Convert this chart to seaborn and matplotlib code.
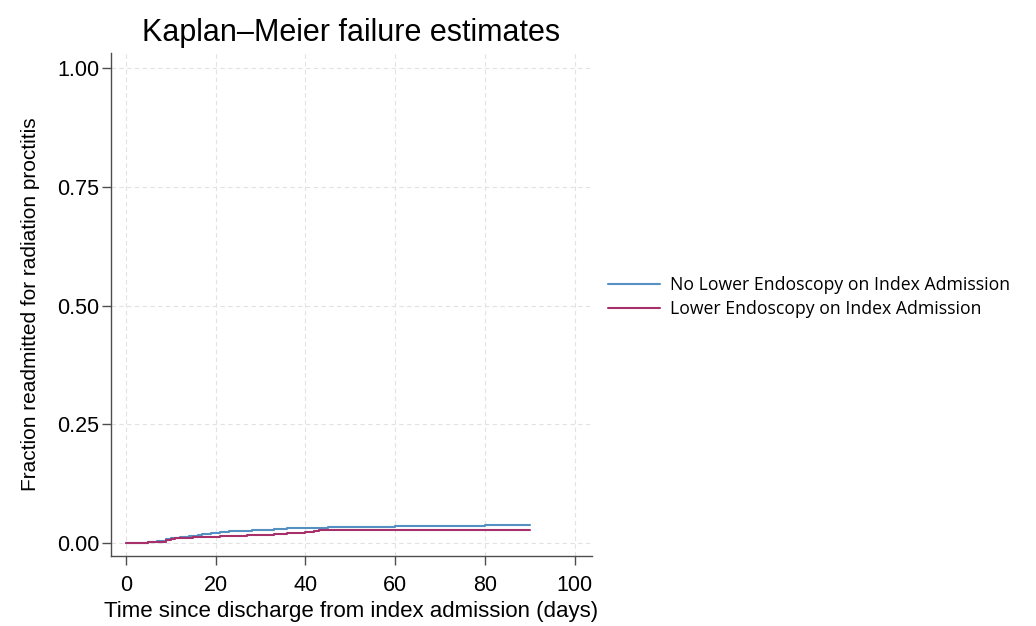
"""
Kaplan-Meier failure estimates: readmission for radiation proctitis
"""
import pandas as pd
import matplotlib.pyplot as plt
import seaborn as sns

BLUE = "#5590c2"
RED  = "#a8306a"
GRID = "#e2e2e2"
AXIS = "#4d4d4d"

NO_ENDO  = "No Lower Endoscopy on Index Admission"
YES_ENDO = "Lower Endoscopy on Index Admission"

# step points
no_endo_t = [0, 3, 5, 7, 9, 10, 12, 14, 16, 17, 19, 21, 23, 26, 28, 30, 33,
             36, 38, 40, 45, 50, 56, 60, 68, 72, 80, 85, 90]
no_endo_f = [0.000, 0.001, 0.003, 0.005, 0.008, 0.010, 0.012, 0.015, 0.018,
             0.020, 0.022, 0.023, 0.025, 0.026, 0.027, 0.028, 0.029, 0.031,
             0.032, 0.033, 0.034, 0.035, 0.035, 0.036, 0.036, 0.037, 0.038,
             0.038, 0.039]
endo_t = [0, 3, 5, 7, 9, 10, 11, 13, 15, 17, 19, 21, 24, 27, 30, 33, 36, 38,
          40, 42, 43, 50, 62, 90]
endo_f = [0.000, 0.001, 0.002, 0.003, 0.006, 0.009, 0.010, 0.011, 0.012,
          0.013, 0.014, 0.015, 0.016, 0.017, 0.018, 0.020, 0.021, 0.022,
          0.023, 0.025, 0.027, 0.027, 0.028, 0.028]

x_ticks = [0, 20, 40, 60, 80, 100]
y_ticks = [0.00, 0.25, 0.50, 0.75, 1.00]

df = pd.concat([
    pd.DataFrame({"t": no_endo_t, "f": no_endo_f, "group": NO_ENDO}),
    pd.DataFrame({"t": endo_t, "f": endo_f, "group": YES_ENDO}),
])

sns.set_style("white")
plt.rcParams["font.family"] = ["Liberation Sans", "DejaVu Sans"]
plt.rcParams["text.color"] = "black"

fig = plt.figure(figsize=(10.36, 6.26), dpi=100)
ax = fig.add_axes([0.1071, 0.1118, 0.4643, 0.8035])

sns.lineplot(data=df, x="t", y="f", hue="group", estimator=None,
             palette={NO_ENDO: BLUE, YES_ENDO: RED}, drawstyle="steps-post",
             linewidth=1.5, ax=ax)

ax.set_xlim(-3.3, 103.8)
ax.set_ylim(-0.027, 1.032)
ax.set_xticks(x_ticks)
ax.set_yticks(y_ticks)
ax.set_yticklabels([f"{v:.2f}" for v in y_ticks])
ax.grid(True, color=GRID, linestyle=(0, (4, 3)), linewidth=0.8)
ax.set_axisbelow(True)
ax.tick_params(axis="both", direction="out", length=6.5, width=1,
               colors=AXIS, labelsize=15.5, labelcolor="black",
               bottom=True, left=True)
ax.tick_params(axis="x", pad=7)
ax.tick_params(axis="y", pad=2)
for side in ("top", "right"):
    ax.spines[side].set_visible(False)
for side in ("left", "bottom"):
    ax.spines[side].set_color(AXIS)
    ax.spines[side].set_linewidth(1)

ax.set_xlabel("Time since discharge from index admission (days)", fontsize=16,
              color="black", labelpad=4)
ax.set_ylabel("Fraction readmitted for radiation proctitis", fontsize=15,
              color="black", labelpad=12)
ax.set_title("Kaplan\u2013Meier failure estimates", fontsize=22, pad=9,
             color="black")

ax.legend(loc="center left", bbox_to_anchor=(608 / 1036, 1 - 297 / 626),
          bbox_transform=fig.transFigure, frameon=False, borderpad=0,
          borderaxespad=0, handlelength=2.95, handletextpad=0.55,
          labelspacing=0.35, prop={"family": "Open Sans", "size": 12.7})

plt.savefig("out.png", dpi=100, facecolor="white")
plt.close()
